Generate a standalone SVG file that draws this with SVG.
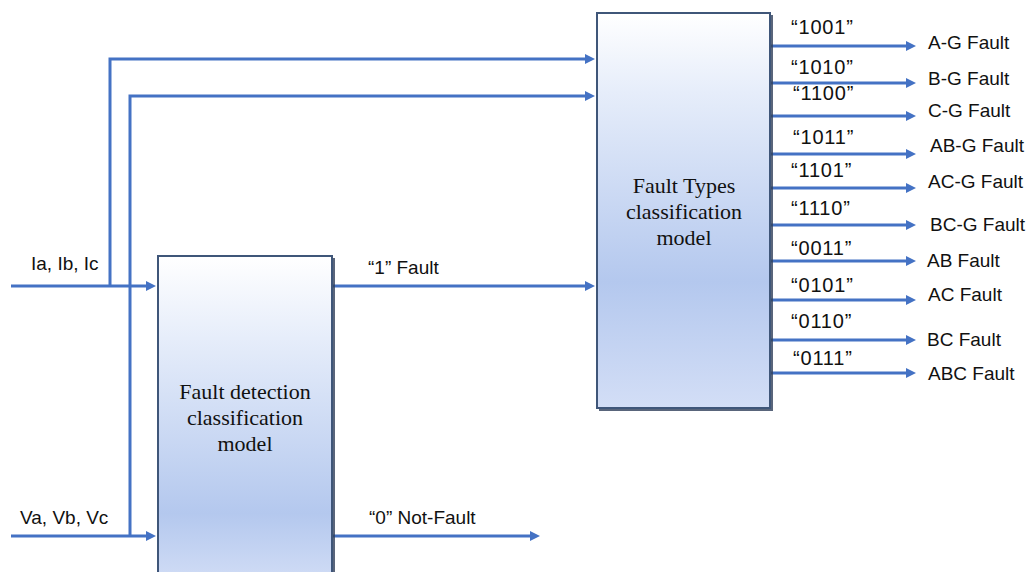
<svg xmlns="http://www.w3.org/2000/svg" width="1029" height="572" viewBox="0 0 1029 572">
  <style>
    .lbl { font-family: "Liberation Sans", Arial, sans-serif; font-size: 19px; fill: #111111; }
    .code { font-family: "Liberation Sans", Arial, sans-serif; font-size: 20px; fill: #111111; letter-spacing: 0.8px; }
    .box-text { font-family: "Liberation Serif", "Times New Roman", serif; font-size: 22px; fill: #111111; text-anchor: middle; }
    .wire { fill: none; stroke: #4472c4; stroke-width: 3; }
    .arrow { marker-end: url(#head); }
    .box { stroke: #3f5679; stroke-width: 2; }
    .shadow { fill: #2f3f5a; opacity: 0.8; }
  </style>
  <defs>
    <marker id="head" viewBox="0 0 10 10" refX="6" refY="5" markerUnits="userSpaceOnUse" markerWidth="12" markerHeight="10" orient="auto">
      <path d="M0,0 L10,5 L0,10 Z" fill="#4472c4"/>
    </marker>
    <linearGradient id="fillTypes" x1="0" y1="0" x2="0" y2="1">
      <stop offset="0" stop-color="#ffffff"/>
      <stop offset="0.2" stop-color="#e6edfa"/>
      <stop offset="0.68" stop-color="#b4c8ee"/>
      <stop offset="1" stop-color="#d3def6"/>
    </linearGradient>
    <linearGradient id="fillDetect" x1="0" y1="0" x2="0" y2="1">
      <stop offset="0" stop-color="#ffffff"/>
      <stop offset="0.25" stop-color="#e6edfa"/>
      <stop offset="0.78" stop-color="#b4c8ee"/>
      <stop offset="1" stop-color="#d3def6"/>
    </linearGradient>
  </defs>
  <rect width="1029" height="572" fill="#ffffff"/>

  <!-- connectors -->
  <g id="connectors">
    <path class="wire arrow" d="M11 286 H152"/>
    <path class="wire arrow" d="M11 536 H152"/>
    <path class="wire arrow" d="M110 286 V59 H591"/>
    <path class="wire arrow" d="M130 536 V96 H591"/>
    <path class="wire arrow" d="M333 286 H591"/>
    <path class="wire arrow" d="M333 536 H536"/>
    <path class="wire arrow" d="M771 46 H912"/>
    <path class="wire arrow" d="M771 83 H912"/>
    <path class="wire arrow" d="M771 116 H912"/>
    <path class="wire arrow" d="M771 154 H912"/>
    <path class="wire arrow" d="M771 188 H912"/>
    <path class="wire arrow" d="M771 225 H912"/>
    <path class="wire arrow" d="M771 261 H912"/>
    <path class="wire arrow" d="M771 300 H912"/>
    <path class="wire arrow" d="M771 340 H912"/>
    <path class="wire arrow" d="M771 373 H912"/>
  </g>

  <!-- Fault detection block -->
  <g id="detection">
    <rect class="shadow" x="160" y="258" width="175" height="330"/>
    <rect class="box" x="158" y="256" width="174" height="330" fill="url(#fillDetect)"/>
    <text class="box-text" x="245" y="399">Fault detection</text>
    <text class="box-text" x="245" y="425">classification</text>
    <text class="box-text" x="245" y="451">model</text>
  </g>

  <!-- Fault types block -->
  <g id="types">
    <rect class="shadow" x="599" y="15" width="174" height="396"/>
    <rect class="box" x="597" y="13" width="173" height="395" fill="url(#fillTypes)"/>
    <text class="box-text" x="684" y="193">Fault Types</text>
    <text class="box-text" x="684" y="219">classification</text>
    <text class="box-text" x="684" y="245">model</text>
  </g>

  <!-- input labels -->
  <g id="inputs">
    <text class="lbl" x="31" y="270">Ia, Ib, Ic</text>
    <text class="lbl" x="20" y="524">Va, Vb, Vc</text>
  </g>

  <!-- detection outputs -->
  <g id="detection-outputs">
    <text class="lbl" x="368" y="274">“1” Fault</text>
    <text class="lbl" x="369" y="524">“0” Not-Fault</text>
  </g>

  <!-- fault type codes -->
  <g id="codes">
    <text class="code" x="791" y="34">“1001”</text>
    <text class="code" x="791" y="74">“1010”</text>
    <text class="code" x="793" y="100">“1100”</text>
    <text class="code" x="793" y="144">“1011”</text>
    <text class="code" x="791" y="177">“1101”</text>
    <text class="code" x="791" y="215">“1110”</text>
    <text class="code" x="791" y="255">“0011”</text>
    <text class="code" x="791" y="292">“0101”</text>
    <text class="code" x="791" y="328">“0110”</text>
    <text class="code" x="793" y="365">“0111”</text>
  </g>

  <!-- fault type names -->
  <g id="fault-names">
    <text class="lbl" x="928" y="49">A-G Fault</text>
    <text class="lbl" x="928" y="85">B-G Fault</text>
    <text class="lbl" x="928" y="117">C-G Fault</text>
    <text class="lbl" x="930" y="152">AB-G Fault</text>
    <text class="lbl" x="928" y="188">AC-G Fault</text>
    <text class="lbl" x="930" y="231">BC-G Fault</text>
    <text class="lbl" x="927" y="267">AB Fault</text>
    <text class="lbl" x="928" y="301">AC Fault</text>
    <text class="lbl" x="927" y="346">BC Fault</text>
    <text class="lbl" x="928" y="380">ABC Fault</text>
  </g>
</svg>
